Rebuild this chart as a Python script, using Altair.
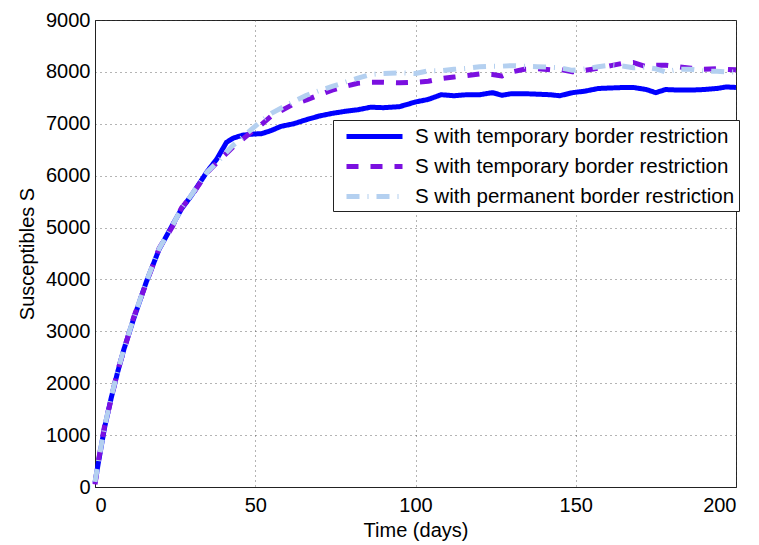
import altair as alt
import pandas as pd

days = [0, 1, 3, 5, 7, 9, 12, 16, 20, 24, 27, 30, 35, 38, 41, 43, 46, 49, 52, 55, 58,
        62, 66, 70, 74, 78, 82, 86, 90, 95, 100, 104, 108, 112, 116, 120, 124, 127,
        130, 134, 138, 142, 145, 149, 153, 157, 161, 165, 168, 172, 175, 178, 182,
        186, 190, 194, 197, 200]

s_temp1 = [80, 450, 1150, 1700, 2200, 2650, 3230, 3950, 4580, 5030, 5360, 5610, 6080,
           6320, 6640, 6720, 6780, 6800, 6810, 6870, 6950,
           7000, 7080, 7150, 7200, 7240, 7270, 7320, 7310, 7330, 7420, 7470, 7560,
           7540, 7560, 7560, 7600, 7550, 7580, 7580, 7570, 7560, 7540, 7600, 7630,
           7680, 7690, 7700, 7700, 7660, 7600, 7660, 7650, 7650, 7660, 7680, 7710, 7700]

s_temp2 = [50, 480, 1180, 1680, 2230, 2630, 3260, 3930, 4600, 5000, 5380, 5600, 6060,
           6250, 6430, 6550, 6700, 6850, 6990, 7150, 7250,
           7380, 7460, 7560, 7650, 7720, 7780, 7800, 7800, 7790, 7800, 7820, 7870,
           7900, 7930, 7960, 7950, 7920, 8000, 8050, 8060, 8040, 8050, 8000, 8030,
           8070, 8120, 8170, 8180, 8100, 8130, 8130, 8100, 8070, 8050, 8060, 8050, 8040]

s_perm = [100, 470, 1160, 1720, 2210, 2660, 3240, 3960, 4590, 5020, 5370, 5620, 6070,
          6250, 6450, 6580, 6740, 6900, 7060, 7200, 7300,
          7430, 7550, 7640, 7720, 7800, 7880, 7950, 7970, 7980, 7970, 8020, 8020,
          8050, 8070, 8100, 8110, 8110, 8120, 8110, 8100, 8090, 8080, 8030, 8060,
          8100, 8130, 8110, 8080, 8090, 8060, 8000, 8050, 8050, 8020, 8010, 8000, 8000]

series_keys = ["S1", "S2", "S3"]
legend_labels = ["S with temporary border restriction",
                 "S with temporary border restriction",
                 "S with permanent border restriction"]
colors = ["#0000FF", "#7B10E0", "#B4D0F0"]
dashes = [[1, 0], [12, 12], [13, 8, 1, 8]]

rows = []
for key, vals in zip(series_keys, [s_temp1, s_temp2, s_perm]):
    for d, v in zip(days, vals):
        rows.append({"day": d, "S": v, "series": key})
df = pd.DataFrame(rows)

pad = "\u00a0\u00a0"
label_expr = " : ".join(
    f"datum.label == '{k}' ? '{l}{pad}'" for k, l in zip(series_keys[:-1], legend_labels[:-1])
) + f" : '{legend_labels[-1]}{pad}'"

font = "Liberation Sans"

chart = alt.Chart(df).mark_line(strokeWidth=5, strokeCap="butt", strokeJoin="round").encode(
    x=alt.X("day:Q", scale=alt.Scale(domain=[0, 200], nice=False),
            axis=alt.Axis(title="Time (days)", values=[0, 50, 100, 150, 200],
                          labelPadding=8, titlePadding=5)),
    y=alt.Y("S:Q", scale=alt.Scale(domain=[0, 9000], nice=False),
            axis=alt.Axis(title="Susceptibles S", values=list(range(0, 9001, 1000)),
                          format="d", labelPadding=5, titlePadding=8)),
    color=alt.Color("series:N", scale=alt.Scale(domain=series_keys, range=colors),
                    legend=alt.Legend(title=None, orient="none", legendX=238, legendY=100,
                                      labelExpr=label_expr, symbolType="M-0.3,0H5.3",
                                      symbolSize=400, symbolStrokeWidth=5,
                                      labelFontSize=20.5, labelFont=font, labelColor="black",
                                      strokeColor="#222", fillColor="white", padding=4,
                                      rowPadding=7, labelOffset=53, labelLimit=420)),
    strokeDash=alt.StrokeDash("series:N", scale=alt.Scale(domain=series_keys, range=dashes),
                              legend=None),
).properties(
    width=641, height=467,
    autosize=alt.AutoSizeParams(type="none"),
    padding={"left": 95, "top": 20, "right": 23, "bottom": 58},
).configure_view(
    stroke="#222", strokeWidth=1
).configure_axis(
    labelFont=font, titleFont=font, labelFontSize=20, titleFontSize=20,
    labelColor="black", titleColor="black", titleFontWeight="normal",
    domainColor="#222", domainWidth=1, ticks=False,
    grid=True, gridColor="#444", gridDash=[1, 4], gridWidth=1, gridOpacity=0.8,
).configure_axisX(labelAngle=0)

chart.save("out.html", embed_options={"renderer": "svg", "actions": False})
